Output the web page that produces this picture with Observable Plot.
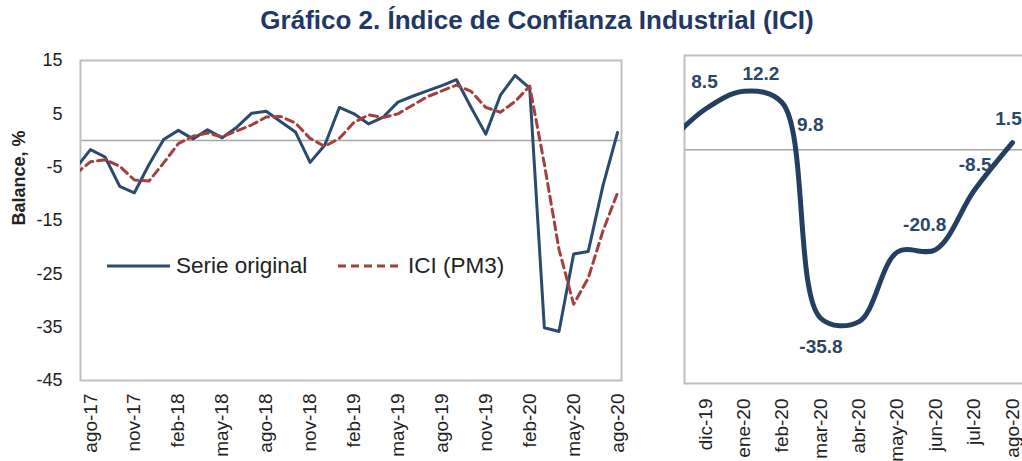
<!DOCTYPE html>
<html><head><meta charset="utf-8">
<script src="https://cdn.jsdelivr.net/npm/d3@7"></script>
<script src="https://cdn.jsdelivr.net/npm/@observablehq/plot@0.6"></script>
<style>
html,body{margin:0;padding:0;background:#fff;overflow:hidden;}
#wrap{position:relative;width:1022px;height:461px;overflow:hidden;font-family:"Liberation Sans",Arial,sans-serif;}
#title{position:absolute;left:52px;top:5px;width:970px;text-align:center;font-weight:bold;font-size:26px;line-height:30px;color:#1F3864;}
.abs{position:absolute;}
.abs svg{max-width:none !important;}
.leg{position:absolute;font-size:22.5px;line-height:26px;color:#222;white-space:nowrap;}
</style></head><body><div id="wrap">
<div id="izq" class="abs" style="left:0;top:0;width:640px;height:461px"></div>
<div id="der" class="abs" style="left:640px;top:0;width:400px;height:461px"></div>
<div id="title">Gráfico 2. Índice de Confianza Industrial (ICI)</div>
<svg class="abs" style="left:105px;top:256px" width="70" height="20"><line x1="2" y1="10" x2="65" y2="10" stroke="#2B4A6E" stroke-width="3"/></svg>
<div class="leg" style="left:176px;top:253px">Serie original</div>
<svg class="abs" style="left:336px;top:256px" width="70" height="20"><line x1="2" y1="10" x2="65" y2="10" stroke="#A43F3E" stroke-width="3" stroke-dasharray="8,5"/></svg>
<div class="leg" style="left:408px;top:253px">ICI (PM3)</div>
</div>
<script>
const meses = ["jul-17","ago-17","sep-17","oct-17","nov-17","dic-17","ene-18","feb-18","mar-18","abr-18","may-18","jun-18","jul-18","ago-18","sep-18","oct-18","nov-18","dic-18","ene-19","feb-19","mar-19","abr-19","may-19","jun-19","jul-19","ago-19","sep-19","oct-19","nov-19","dic-19","ene-20","feb-20","mar-20","abr-20","may-20","jun-20","jul-20","ago-20"];
const serieOriginal = [-5.2,-1.7,-3.1,-8.6,-9.8,-4.5,0.2,1.9,0.3,2.0,0.5,2.5,5.1,5.5,3.5,1.6,-4.1,-0.9,6.2,5.0,3.1,4.4,7.2,8.3,9.3,10.3,11.4,6.2,1.2,8.5,12.2,9.8,-35.1,-35.8,-21.3,-20.8,-8.5,1.5];
const iciPM3 = [-6.2,-4.0,-3.6,-4.8,-7.4,-7.6,-4.2,-0.6,0.8,1.4,0.7,1.8,2.9,4.4,4.5,3.3,0.4,-1.1,0.4,3.4,4.8,4.3,5.0,6.6,8.2,9.3,10.4,9.2,6.2,5.3,7.3,10.2,-4.4,-20.4,-30.7,-25.8,-17.0,-9.8];
const ticksIzq = ["ago-17","nov-17","feb-18","may-18","ago-18","nov-18","feb-19","may-19","ago-19","nov-19","feb-20","may-20","ago-20"];
const yTicksIzq = [15,5,-5,-15,-25,-35,-45];

const mesesDer = ["nov-19","dic-19","ene-20","feb-20","mar-20","abr-20","may-20","jun-20","jul-20","ago-20"];
const valoresDer = [1.2,8.5,12.2,9.8,-35.1,-35.8,-21.3,-20.8,-8.5,1.5];
const ticksDer = ["dic-19","ene-20","feb-20","mar-20","abr-20","may-20","jun-20","jul-20","ago-20"];
const etiquetasDer = ["dic-19","ene-20","feb-20","abr-20","jun-20","jul-20","ago-20"];
const desplazamientos = [[-1,-27],[17,-17],[28,22],[-38,25],[-11,-25],[1,-26],[-4,-24]];

const azul = "#2B4A6E", rojo = "#A43F3E", azulDer = "#253F60";

const izq = Plot.plot({
  width: 640, height: 461,
  marginLeft: 80, marginRight: 19, marginTop: 60, marginBottom: 81,
  x: {type: "linear", domain: [0.32, 37.27]},
  y: {domain: [-45, 15]},
  style: {fontFamily: "Liberation Sans, Arial, sans-serif", color: "#222", background: "transparent"},
  marks: [
    Plot.ruleY([0], {stroke: "#A6A6A6", strokeWidth: 1.5}),
    Plot.frame({stroke: "#BFBFBF", strokeWidth: 2}),
    Plot.axisY({ticks: yTicksIzq, tickFormat: d => String(d), tickSize: 0, tickPadding: 18, fontSize: 18, label: null}),
    Plot.axisX({ticks: ticksIzq.map(t => meses.indexOf(t)), tickFormat: i => meses[i], tickRotate: -90, tickSize: 0, tickPadding: 13, fontSize: 19, label: null}),
    Plot.line(serieOriginal, {x: (d, i) => i, y: d => d, stroke: azul, strokeWidth: 3, clip: true}),
    Plot.line(iciPM3, {x: (d, i) => i, y: d => d, stroke: rojo, strokeWidth: 3, strokeDasharray: "8,5", clip: true}),
    Plot.text(["Balance, %"], {frameAnchor: "left", dx: -61, dy: 5, rotate: -90, fontWeight: "bold", fontSize: 18, fill: "#222"})
  ]
});
document.getElementById("izq").appendChild(izq);

const der = Plot.plot({
  width: 400, height: 461,
  marginLeft: 44, marginRight: 7, marginTop: 55, marginBottom: 78,
  x: {type: "linear", domain: [0.453, 9.547]},
  y: {domain: [-48.7, 19.65], axis: null},
  style: {fontFamily: "Liberation Sans, Arial, sans-serif", color: "#222", background: "transparent"},
  marks: [
    Plot.ruleY([0], {stroke: "#A6A6A6", strokeWidth: 1.5}),
    Plot.frame({stroke: "#BFBFBF", strokeWidth: 2}),
    Plot.axisX({ticks: ticksDer.map(t => mesesDer.indexOf(t)), tickFormat: i => mesesDer[i], tickRotate: -90, tickSize: 0, tickPadding: 15, fontSize: 19, label: null}),
    Plot.line(valoresDer, {x: (d, i) => i, y: d => d, stroke: azulDer, strokeWidth: 5, curve: "catmull-rom", clip: true}),
    ...etiquetasDer.map((m, k) => {
      const i = mesesDer.indexOf(m);
      return Plot.text([valoresDer[i]], {x: () => i, y: d => d, text: d => String(d), dx: desplazamientos[k][0], dy: desplazamientos[k][1], fontWeight: "bold", fontSize: 19, fill: "#2B4668"});
    })
  ]
});
document.getElementById("der").appendChild(der);
</script>
</body></html>
